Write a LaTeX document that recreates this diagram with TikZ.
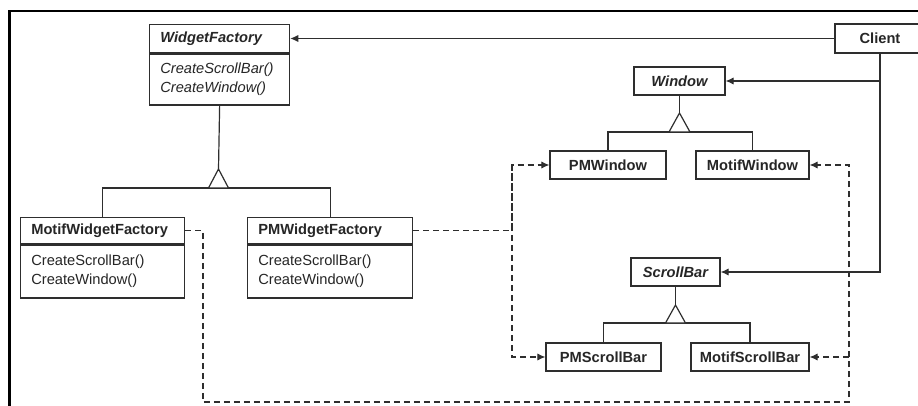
\documentclass[tikz,border=0pt]{standalone}
\usepackage{fontspec}
\setmainfont{Liberation Sans}
\usetikzlibrary{arrows.meta,calc}
\definecolor{linec}{HTML}{2E2E2E}
\definecolor{txtc}{HTML}{262626}
\tikzset{
  box/.style={draw=linec, line width=0.95pt, fill=white, inner ysep=0pt,
    text=txtc, font=\fontsize{11}{14.25}\selectfont},
  cls/.style={box, inner xsep=0pt, minimum height=21pt, align=center,
    font=\fontsize{11}{14.25}\selectfont\bfseries},
  head/.style={box, inner xsep=8pt, align=left, anchor=north west,
    font=\fontsize{11}{14.25}\selectfont\bfseries},
  body/.style={box, inner xsep=8pt, align=left, anchor=north},
  link/.style={draw=linec, line width=0.9pt},
  assoc/.style={link, -{Latex[length=6pt,width=5.5pt]}},
  creates/.style={link, dash pattern=on 4.5pt off 3pt, -{Latex[length=6pt,width=5.5pt]}},
  plain dashed/.style={link, dash pattern=on 4.5pt off 3pt},
  inherit/.style={draw=linec, line width=0.9pt, fill=white},
  frameline/.style={draw=black, line width=2.2pt}
}
\begin{document}
\begin{tikzpicture}[x=0.75pt, y=-0.75pt]
\useasboundingbox (0,0) rectangle (918,406);
\fill[white] (0,0) rectangle (918,406);

% outer frame
\draw[frameline] (9.5,406) -- (9.5,11) -- (918,11);

% abstract factory
\node[head, minimum width=105pt, minimum height=21pt, text width=89pt] (wf) at (149,24)
  {\itshape WidgetFactory};
\node[body, minimum width=105pt, minimum height=38.25pt, text width=89pt] (wfb) at (wf.south)
  {\itshape CreateScrollBar()\\\itshape CreateWindow()};

% concrete factories
\node[head, minimum width=123pt, minimum height=19.5pt, text width=107pt] (mwf) at (20,217)
  {MotifWidgetFactory};
\node[body, minimum width=123pt, minimum height=39.75pt, text width=107pt] (mwfb) at (mwf.south)
  {CreateScrollBar()\\CreateWindow()};
\node[head, minimum width=123.75pt, minimum height=19.5pt, text width=107.75pt] (pwf) at (247,217)
  {PMWidgetFactory};
\node[body, minimum width=123.75pt, minimum height=39.75pt, text width=107.75pt] (pwfb) at (pwf.south)
  {CreateScrollBar()\\CreateWindow()};

% client
\node[cls, minimum width=67.5pt, minimum height=21.75pt] (client) at (880,38.5) {Client};

% products
\node[cls, minimum width=68.25pt] (win) at (679.5,81) {\itshape Window};
\node[cls, minimum width=87pt] (pmw) at (608,165) {PMWindow};
\node[cls, minimum width=84.75pt] (mw) at (752.5,165) {MotifWindow};
\node[cls, minimum width=66.75pt] (sb) at (675.5,272) {\itshape ScrollBar};
\node[cls, minimum width=86.25pt] (psb) at (603.5,357) {PMScrollBar};
\node[cls, minimum width=88.5pt] (msb) at (750,357) {MotifScrollBar};

% inheritance: factories
\coordinate (t1) at (218.5,188);
\coordinate (a1) at (218.5,169);
\draw[link] (wfb.south) -- (a1);
\draw[link] (mwf.north) |- (t1) -| (pwf.north);
\draw[inherit] ($(t1)+(-10,0)$) -- (a1) -- ($(t1)+(10,0)$) -- cycle;

% inheritance: windows
\coordinate (t2) at (679.5,132);
\coordinate (a2) at (679.5,113);
\draw[link] (win.south) -- (a2);
\draw[link] (pmw.north) |- (t2) -| (mw.north);
\draw[inherit] ($(t2)+(-10.5,0)$) -- (a2) -- ($(t2)+(10.5,0)$) -- cycle;

% inheritance: scroll bars
\coordinate (t3) at (675.5,323);
\coordinate (a3) at (675.5,305);
\draw[link] (sb.south) -- (a3);
\draw[link] (psb.north) |- (t3) -| (msb.north);
\draw[inherit] ($(t3)+(-10,0)$) -- (a3) -- ($(t3)+(10,0)$) -- cycle;

% client associations
\draw[assoc] (client.west) -- (wf.east |- client.west);
\draw[assoc] (client.south) |- (sb.east);
\draw[assoc] (client.south |- win.east) -- (win.east);

% PM factory creates PM products
\coordinate (pv) at (512,0);
\draw[creates] (pwf.east) -| (pv |- pmw.west) -- (pmw.west);
\draw[creates] (pv |- pmw.west) |- (psb.west);

% Motif factory creates Motif products
\coordinate (lb) at (203,402);
\coordinate (rb) at (849,402);
\draw[creates] (mwf.east) -| (lb) -- (rb) |- (mw.east);
\draw[creates] (rb |- msb.east) -- (msb.east);
\end{tikzpicture}
\end{document}
